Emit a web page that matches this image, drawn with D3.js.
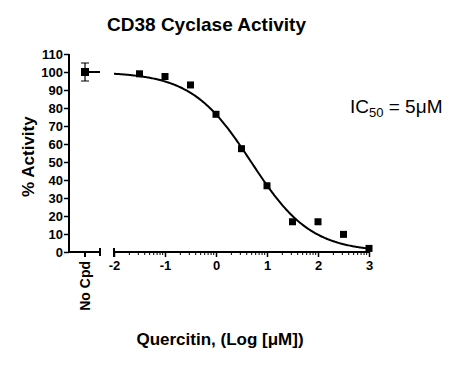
<!DOCTYPE html>
<html><head><meta charset="utf-8">
<script src="https://cdn.jsdelivr.net/npm/d3@7"></script>
<style>body{margin:0;background:#fff}svg{display:block}text{font-family:Arial,"Liberation Sans",sans-serif}</style>
</head><body><svg id="c" width="455" height="367"></svg>
<script>
const logConc = [-1.5, -1, -0.5, 0, 0.5, 1, 1.5, 2, 2.5, 3];
const activity = [99, 97.5, 92.8, 76.5, 57.4, 36.8, 16.8, 16.8, 9.8, 2];
const noCpd = [100];
const noCpdErr = [5];
const fitParams = [100, 0, 0.69, 0.743]; // top, bottom, logIC50, hill
const yTicks = [0,10,20,30,40,50,60,70,80,90,100,110];
const xTicks = [-2,-1,0,1,2,3];

const svg = d3.select("#c");
const x = d3.scaleLinear().domain([-2,3]).range([114,369]);
const y = d3.scaleLinear().domain([0,110]).range([252,54]);
const axisY = 252, axisX = 69;
const k = "#000";

// title
svg.append("text").attr("x",206.5).attr("y",31).attr("text-anchor","middle")
  .attr("font-weight","bold").attr("font-size",19).text("CD38 Cyclase Activity");

// y axis
const gy = svg.append("g").attr("transform",`translate(${axisX},0)`)
  .call(d3.axisLeft(y).tickValues(yTicks).tickSize(5).tickPadding(1));
gy.select(".domain").attr("stroke-width",2).attr("d",`M0,${y(110)}V${axisY}`);
gy.selectAll(".tick line").attr("stroke-width",1.5);
gy.selectAll("text").attr("font-weight","bold").attr("font-size",13).attr("font-family","Arial");

svg.append("text").attr("transform",`translate(34,${y(53)}) rotate(-90)`).attr("text-anchor","middle")
  .attr("font-weight","bold").attr("font-size",17).text("% Activity");

// No Cpd segment
const g0 = svg.append("g");
g0.append("path").attr("d",`M${axisX},${axisY}H100M100,${axisY-4}V${axisY+4}M85,${axisY}V${axisY+5}`)
  .attr("stroke",k).attr("stroke-width",2).attr("fill","none");
g0.append("text").attr("transform",`translate(89.5,${axisY+9}) rotate(-90)`).attr("text-anchor","end")
  .attr("font-weight","bold").attr("font-size",14).text("No Cpd");

// main x axis
const gx = svg.append("g").attr("transform",`translate(0,${axisY})`)
  .call(d3.axisBottom(x).tickValues(xTicks).tickSize(5).tickPadding(4).tickFormat(d3.format("d")));
gx.select(".domain").attr("stroke-width",2).attr("d",`M${x(-2)},0H${x(3)}`);
gx.selectAll(".tick line").attr("stroke-width",1.5);
gx.selectAll("text").attr("font-weight","bold").attr("font-size",13).attr("font-family","Arial")
  .text(d=> d<0 ? "-"+Math.abs(d) : d);
// break cap at -2
gx.append("path").attr("d",`M${x(-2)},-4V5`).attr("stroke",k).attr("stroke-width",2);
// minor log ticks
const minors = [];
for (let d=-2; d<3; d++) for (let m=2; m<=9; m++) minors.push(d+Math.log10(m));
gx.selectAll(".minor").data(minors).join("line").attr("class","minor")
  .attr("x1",d=>x(d)).attr("x2",d=>x(d)).attr("y1",0).attr("y2",3).attr("stroke",k).attr("stroke-width",1);

svg.append("text").attr("x",220).attr("y",345).attr("text-anchor","middle")
  .attr("font-weight","bold").attr("font-size",17).text("Quercitin, (Log [\u03BCM])");

// fit curve
const [T,B,C,H] = fitParams;
const f = v => B + (T-B)/(1+Math.pow(10,(v-C)*H));
const xs = d3.range(-2, 3.001, 0.02);
svg.append("path").datum(xs).attr("fill","none").attr("stroke",k).attr("stroke-width",2)
  .attr("d", d3.line().x(d=>x(d)).y(d=>y(f(d))));

// points
svg.selectAll(".pt").data(logConc).join("rect").attr("class","pt")
  .attr("x",(d)=>x(d)-3.5).attr("y",(d,i)=>y(activity[i])-3.5).attr("width",7).attr("height",7).attr("fill",k);

// No Cpd point with error bar
const nx = 85;
svg.append("path").attr("d",`M${nx},${y(noCpd[0])}H100`).attr("stroke",k).attr("stroke-width",2);
svg.append("path").attr("d",`M${nx},${y(noCpd[0]+noCpdErr[0])}V${y(noCpd[0]-noCpdErr[0])}M${nx-4},${y(noCpd[0]+noCpdErr[0])}H${nx+4}M${nx-4},${y(noCpd[0]-noCpdErr[0])}H${nx+4}`)
  .attr("stroke",k).attr("stroke-width",1.2);
svg.append("rect").attr("x",nx-4).attr("y",y(noCpd[0])-4).attr("width",8).attr("height",8).attr("fill",k);

// IC50 label
const t = svg.append("text").attr("x",350).attr("y",113).attr("font-size",19);
t.append("tspan").text("IC");
t.append("tspan").attr("font-size",13).attr("dy",4).text("50");
t.append("tspan").attr("dy",-4).text(" = 5\u03BCM");
</script></body></html>
